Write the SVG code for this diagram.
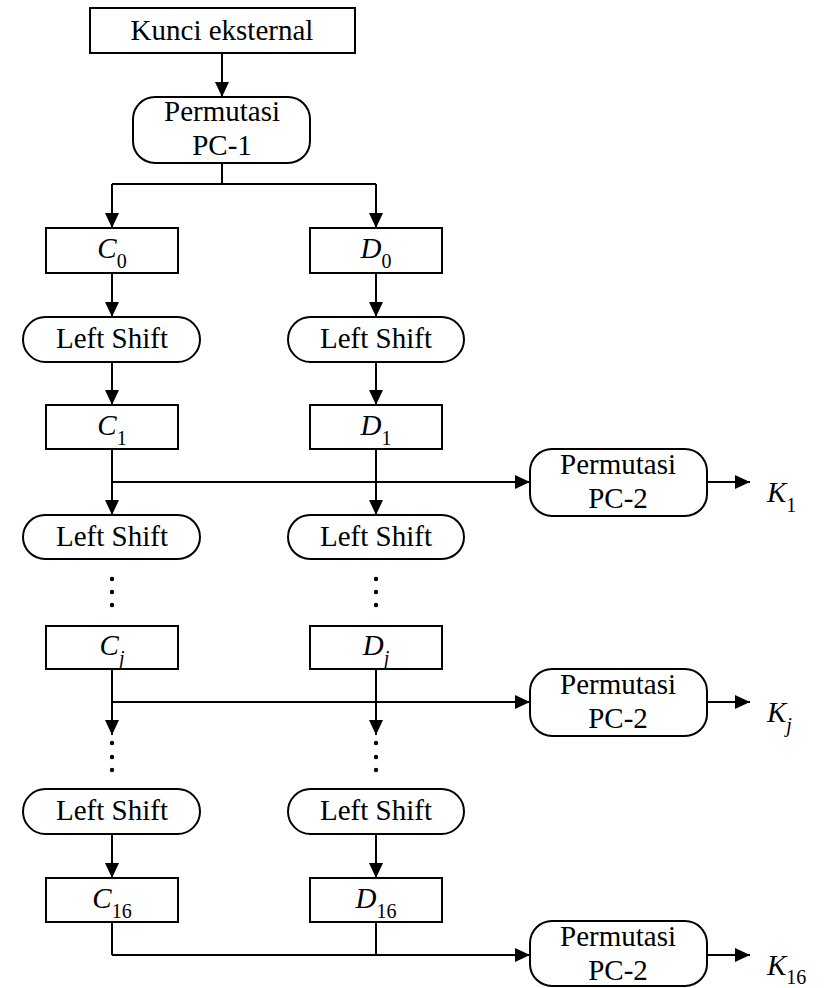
<svg xmlns="http://www.w3.org/2000/svg" width="830" height="988" viewBox="0 0 830 988">
<style>
.box{fill:#fff;stroke:#000;stroke-width:2}
.ln{fill:none;stroke:#000;stroke-width:2}
.arr{fill:none;stroke:#000;stroke-width:2;marker-end:url(#ah)}
.t{font-family:'Liberation Serif','Times New Roman',Times,serif;font-size:29px;fill:#000}
.c{text-anchor:middle}
.s{font-size:20px;font-style:normal}
.i{font-style:italic}
</style>
<defs>
<marker id="ah" viewBox="0 0 15 14" refX="15" refY="7" markerWidth="15" markerHeight="14" markerUnits="userSpaceOnUse" orient="auto">
<path d="M0,0 L15,7 L0,14 z" fill="#000"/>
</marker>
</defs>
<rect width="830" height="988" fill="#fff"/>
<g id="connectors">
<path class="arr" d="M222,53 V97"/>
<path class="ln" d="M222,163 V184 M112,184 H376"/>
<path class="arr" d="M112,184 V228"/>
<path class="arr" d="M376,184 V228"/>
<path class="arr" d="M112,273 V317"/>
<path class="arr" d="M376,273 V317"/>
<path class="arr" d="M112,362 V405"/>
<path class="arr" d="M376,362 V405"/>
<path class="arr" d="M112,449 V515"/>
<path class="arr" d="M376,449 V515"/>
<path class="arr" d="M112,482 H530"/>
<path class="arr" d="M707,482 H750"/>
<path class="arr" d="M112,669 V735"/>
<path class="arr" d="M376,669 V735"/>
<path class="arr" d="M112,702 H530"/>
<path class="arr" d="M707,702 H750"/>
<path class="arr" d="M112,834 V878"/>
<path class="arr" d="M376,834 V878"/>
<path class="ln" d="M112,922 V955 M376,922 V955"/>
<path class="arr" d="M112,955 H530"/>
<path class="arr" d="M707,955 H750"/>
</g>
<g id="dots" fill="#000">
<circle cx="112" cy="579" r="2.2"/><circle cx="112" cy="592" r="2.2"/><circle cx="112" cy="605" r="2.2"/>
<circle cx="376" cy="579" r="2.2"/><circle cx="376" cy="592" r="2.2"/><circle cx="376" cy="605" r="2.2"/>
<circle cx="112" cy="743" r="2.2"/><circle cx="112" cy="757" r="2.2"/><circle cx="112" cy="770" r="2.2"/>
<circle cx="376" cy="743" r="2.2"/><circle cx="376" cy="757" r="2.2"/><circle cx="376" cy="770" r="2.2"/>
</g>
<g font-family="Liberation Serif, Times New Roman, serif">
<g id="kunci"><rect class="box" x="90" y="8" width="265" height="45"/><text class="t c" x="222" y="40">Kunci eksternal</text></g>
<g id="pc1"><rect class="box" x="133" y="97" width="177" height="66" rx="22"/><text class="t c" x="222" y="121">Permutasi</text><text class="t c" x="222" y="155">PC-1</text></g>
<g id="c0"><rect class="box" x="46" y="228" width="132" height="45"/><text class="t c" x="112" y="258"><tspan class="i">C</tspan><tspan class="s" dy="10">0</tspan></text></g>
<g id="d0"><rect class="box" x="310" y="228" width="132" height="45"/><text class="t c" x="376" y="258"><tspan class="i">D</tspan><tspan class="s" dy="10">0</tspan></text></g>
<g id="lsc1"><rect class="box" x="23" y="317" width="177" height="45" rx="22.5"/><text class="t c" x="112" y="348">Left Shift</text></g>
<g id="lsd1"><rect class="box" x="288" y="317" width="176" height="45" rx="22.5"/><text class="t c" x="376" y="348">Left Shift</text></g>
<g id="c1"><rect class="box" x="46" y="405" width="132" height="44"/><text class="t c" x="112" y="435"><tspan class="i">C</tspan><tspan class="s" dy="10">1</tspan></text></g>
<g id="d1"><rect class="box" x="310" y="405" width="132" height="44"/><text class="t c" x="376" y="435"><tspan class="i">D</tspan><tspan class="s" dy="10">1</tspan></text></g>
<g id="pc2a"><rect class="box" x="530" y="449" width="177" height="67" rx="22"/><text class="t c" x="618" y="474">Permutasi</text><text class="t c" x="618" y="508">PC-2</text></g>
<g id="k1"><text class="t" x="767" y="502"><tspan class="i">K</tspan><tspan class="s" dy="10">1</tspan></text></g>
<g id="lsc2"><rect class="box" x="23" y="515" width="177" height="44" rx="22"/><text class="t c" x="112" y="546">Left Shift</text></g>
<g id="lsd2"><rect class="box" x="288" y="515" width="176" height="44" rx="22"/><text class="t c" x="376" y="546">Left Shift</text></g>
<g id="cj"><rect class="box" x="46" y="626" width="132" height="43"/><text class="t c" x="112" y="655"><tspan class="i">C</tspan><tspan class="s i" dy="10">j</tspan></text></g>
<g id="dj"><rect class="box" x="310" y="626" width="132" height="43"/><text class="t c" x="376" y="655"><tspan class="i">D</tspan><tspan class="s i" dy="10">j</tspan></text></g>
<g id="pc2b"><rect class="box" x="530" y="669" width="177" height="67" rx="22"/><text class="t c" x="618" y="694">Permutasi</text><text class="t c" x="618" y="728">PC-2</text></g>
<g id="kj"><text class="t" x="767" y="722"><tspan class="i">K</tspan><tspan class="s i" dy="10">j</tspan></text></g>
<g id="lsc3"><rect class="box" x="23" y="789" width="177" height="45" rx="22.5"/><text class="t c" x="112" y="820">Left Shift</text></g>
<g id="lsd3"><rect class="box" x="288" y="789" width="176" height="45" rx="22.5"/><text class="t c" x="376" y="820">Left Shift</text></g>
<g id="c16"><rect class="box" x="46" y="878" width="132" height="44"/><text class="t c" x="112" y="908"><tspan class="i">C</tspan><tspan class="s" dy="10">16</tspan></text></g>
<g id="d16"><rect class="box" x="310" y="878" width="132" height="44"/><text class="t c" x="376" y="908"><tspan class="i">D</tspan><tspan class="s" dy="10">16</tspan></text></g>
<g id="pc2c"><rect class="box" x="530" y="921" width="177" height="65" rx="22"/><text class="t c" x="618" y="946">Permutasi</text><text class="t c" x="618" y="980">PC-2</text></g>
<g id="k16"><text class="t" x="767" y="975"><tspan class="i">K</tspan><tspan class="s" dy="9">16</tspan></text></g>
</g>
</svg>
